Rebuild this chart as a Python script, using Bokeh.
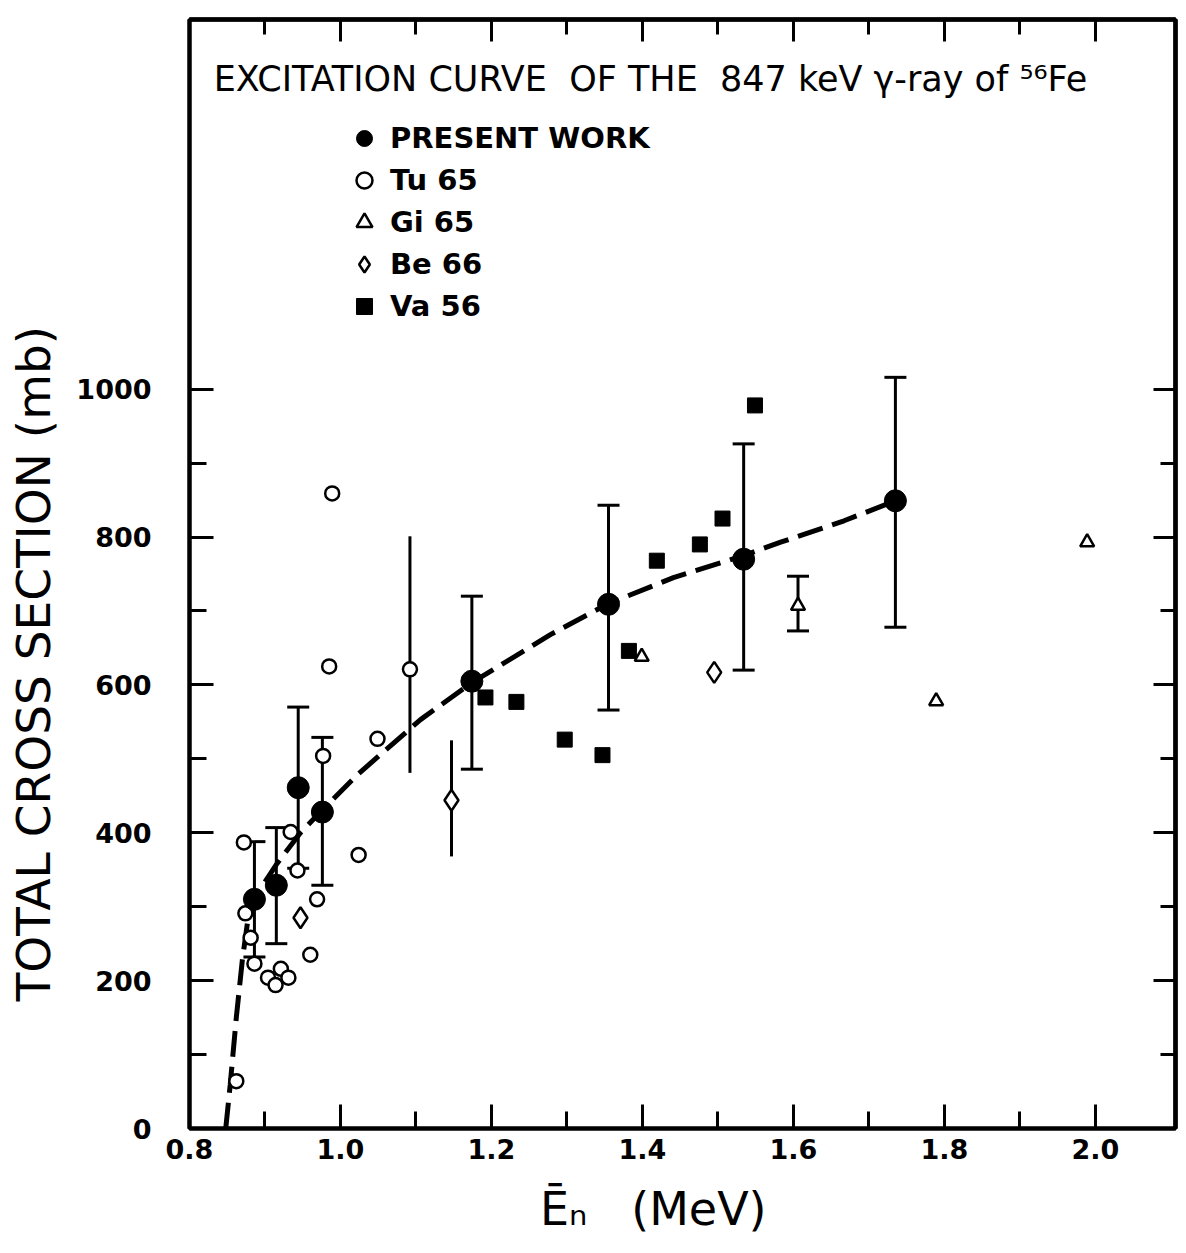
from bokeh.plotting import figure
from bokeh.models import (Range1d, FixedTicker, LinearAxis, Legend, LegendItem, Label,
                          Whisker, ColumnDataSource, TeeHead, NumeralTickFormatter)
from bokeh.embed import file_html
from bokeh.resources import INLINE

# ---------------- data ----------------
# Present work (filled circles) with error bars
E_pw = [0.886, 0.915, 0.944, 0.976, 1.174, 1.355, 1.534, 1.735]
s_pw = [310, 329, 461, 428, 605, 709, 770, 849]
hi_pw = [388, 407, 570, 529, 720, 843, 926, 1016]
lo_pw = [232, 250, 352, 329, 486, 566, 620, 678]

# Tu 65 (open circles)
E_tu = [0.862, 0.872, 0.874, 0.881, 0.886, 0.904, 0.914, 0.921, 0.931, 0.934,
        0.943, 0.960, 0.969, 0.977, 0.985, 0.989, 1.024, 1.049, 1.092]
s_tu = [64, 387, 291, 258, 223, 204, 194, 216, 204, 401,
        349, 235, 310, 504, 625, 859, 370, 527, 621]
E_tu_err = [1.092]
hi_tu_err = [801]
lo_tu_err = [481]

# Gi 65 (open triangles)
E_gi = [1.399, 1.606, 1.789, 1.989]
s_gi = [638, 707, 578, 793]
E_gi_err = [1.606]
hi_gi_err = [747]
lo_gi_err = [673]

# Be 66 (open diamonds)
E_be = [0.947, 1.147, 1.495]
s_be = [285, 444, 617]
E_be_err = [1.147]
hi_be_err = [525]
lo_be_err = [368]

# Va 56 (filled squares)
E_va = [1.192, 1.233, 1.297, 1.347, 1.382, 1.419, 1.476, 1.506, 1.549]
s_va = [583, 577, 526, 505, 646, 768, 790, 825, 978]

# dashed excitation curve
E_fit = [0.848, 0.854, 0.862, 0.870, 0.877, 0.886, 0.915, 0.947, 0.978, 1.024,
         1.106, 1.174, 1.278, 1.355, 1.441, 1.534, 1.583, 1.667, 1.735]
s_fit = [0, 60, 150, 228, 280, 312, 357, 400, 433, 480,
         553, 603, 668, 710, 745, 775, 793, 822, 849]

x_major = [0.8, 1.0, 1.2, 1.4, 1.6, 1.8, 2.0]
x_minor = [0.9, 1.1, 1.3, 1.5, 1.7, 1.9]
y_major = [0, 200, 400, 600, 800, 1000]
y_minor = [100, 300, 500, 700, 900]

NB = "\u00a0"
title_text = "EXCITATION CURVE" + NB + " OF THE" + NB + " 847 keV \u03b3-ray of \u2075\u2076Fe"
# trailing no-break spaces shift the centred axis titles to where the reference puts them
x_label = "\u0112\u2099" + NB + NB + " (MeV)" + NB * 4
y_label = "TOTAL CROSS SECTION (mb)" + NB * 12
legend_labels = ["PRESENT WORK", "Tu 65", "Gi 65", "Be 66", "Va 56"]

FONT = "DejaVu Sans"

# ---------------- figure ----------------
p = figure(frame_width=986, frame_height=1109,
           min_border_left=189, min_border_right=11, min_border_top=19, min_border_bottom=125,
           x_range=Range1d(0.8, 2.106), y_range=Range1d(0, 1500),
           output_backend="svg", toolbar_location=None)
p.grid.visible = False
p.outline_line_color = "black"
p.outline_line_width = 4
p.background_fill_color = "white"
p.border_fill_color = "white"

xt = FixedTicker(ticks=x_major, minor_ticks=x_minor)
yt = FixedTicker(ticks=y_major, minor_ticks=y_minor)


def style_axis(ax, ticker, major_len=24, minor_len=17):
    ax.ticker = ticker
    ax.axis_line_color = "black"
    ax.axis_line_width = 4
    ax.major_tick_line_width = 3
    ax.minor_tick_line_width = 3
    ax.major_tick_line_color = "black"
    ax.minor_tick_line_color = "black"
    ax.major_tick_in = major_len
    ax.major_tick_out = 0
    ax.minor_tick_in = minor_len
    ax.minor_tick_out = 0


xa = p.xaxis[0]
style_axis(xa, xt)
xa.formatter = NumeralTickFormatter(format="0.0")
xa.major_label_text_font = FONT
xa.major_label_text_font_size = "27px"
xa.major_label_text_font_style = "bold"
xa.major_label_text_color = "black"
xa.major_label_standoff = 10
xa.axis_label = x_label
xa.axis_label_text_font = FONT
xa.axis_label_text_font_size = "46px"
xa.axis_label_text_font_style = "normal"
xa.axis_label_text_color = "black"
xa.axis_label_standoff = 20

ya = p.yaxis[0]
style_axis(ya, yt)
ya.major_label_text_font = FONT
ya.major_label_text_font_size = "27px"
ya.major_label_text_font_style = "bold"
ya.major_label_text_color = "black"
ya.major_label_standoff = 38
ya.axis_label = y_label
ya.axis_label_text_font = FONT
ya.axis_label_text_font_size = "47px"
ya.axis_label_text_font_style = "normal"
ya.axis_label_text_color = "black"
ya.axis_label_standoff = 12

# mirrored tick marks on the right and top edges (no labels)
for place, majors, minors in (("right", y_major, y_minor), ("above", x_major, x_minor)):
    a1 = LinearAxis()
    style_axis(a1, FixedTicker(ticks=[], minor_ticks=majors), minor_len=22)
    a1.major_label_standoff = 0
    p.add_layout(a1, place)
    a2 = LinearAxis()
    style_axis(a2, FixedTicker(ticks=[], minor_ticks=minors), minor_len=15)
    a2.major_label_standoff = 0
    p.add_layout(a2, place)

# ---------------- curve ----------------
p.line(E_fit, s_fit, line_color="black", line_width=5, line_dash="26 10")

# ---------------- error bars ----------------
def bars(xs, his, los, caps=True):
    src = ColumnDataSource(dict(x=xs, hi=his, lo=los))
    if caps:
        uh = TeeHead(size=22, line_width=3, line_color="black")
        lh = TeeHead(size=22, line_width=3, line_color="black")
    else:
        uh = None
        lh = None
    w = Whisker(source=src, base="x", upper="hi", lower="lo", dimension="height",
                line_width=3, line_color="black", upper_head=uh, lower_head=lh)
    p.add_layout(w)


bars(E_pw, hi_pw, lo_pw, True)
bars(E_tu_err, hi_tu_err, lo_tu_err, False)
bars(E_gi_err, hi_gi_err, lo_gi_err, True)
bars(E_be_err, hi_be_err, lo_be_err, False)

# ---------------- points ----------------
r_tu = p.scatter(E_tu, s_tu, marker="circle", size=14, fill_color="white",
                 line_color="black", line_width=2.5)
r_gi = p.scatter(E_gi, s_gi, marker="triangle", size=14, fill_color="white",
                 line_color="black", line_width=2.5)
r_be = p.scatter(E_be, s_be, marker="diamond", size=21, fill_color="white",
                 line_color="black", line_width=2.5)
r_va = p.scatter(E_va, s_va, marker="square", size=15, fill_color="black",
                 line_color="black")
r_pw = p.scatter(E_pw, s_pw, marker="circle", size=22, fill_color="black",
                 line_color="black")

# ---------------- legend ----------------
legend = Legend(items=[LegendItem(label=legend_labels[0], renderers=[r_pw]),
                       LegendItem(label=legend_labels[1], renderers=[r_tu]),
                       LegendItem(label=legend_labels[2], renderers=[r_gi]),
                       LegendItem(label=legend_labels[3], renderers=[r_be]),
                       LegendItem(label=legend_labels[4], renderers=[r_va])],
                location=(155, 802), glyph_width=40, glyph_height=40, label_height=40,
                spacing=2, padding=0, margin=0, border_line_color=None,
                background_fill_alpha=0, label_standoff=6,
                label_text_font=FONT, label_text_font_size="29px",
                label_text_font_style="bold", label_text_color="black")
p.add_layout(legend)

# ---------------- title ----------------
p.add_layout(Label(x=0.832, y=1420, text=title_text, text_font=FONT,
                   text_font_size="35px", text_baseline="middle", text_color="black"))

open("out.html", "w").write(file_html(p, INLINE))
